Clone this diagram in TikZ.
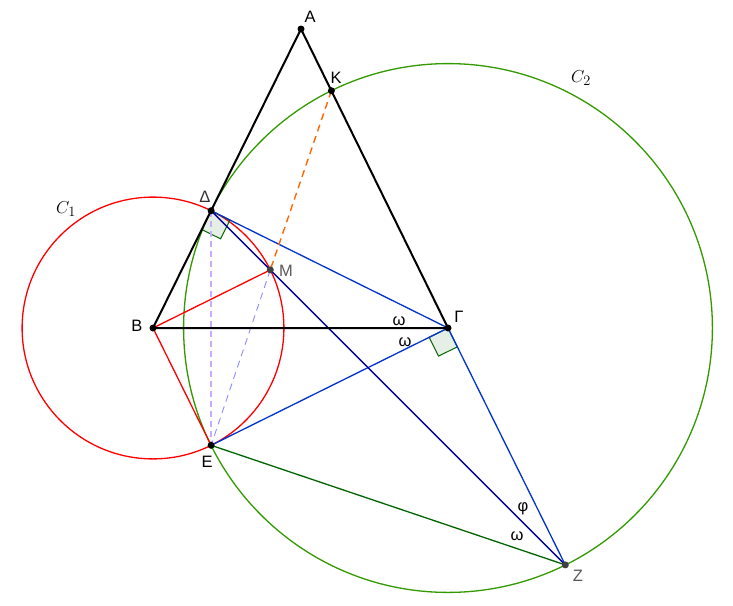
\documentclass[tikz,border=0pt]{standalone}
\usepackage{fontspec}
\setmainfont{Liberation Sans}
\begin{document}
\begin{tikzpicture}[x=1pt,y=-1pt,
  lbl/.style={font=\fontsize{16.5}{16.5}\selectfont, inner sep=0pt},
  dot/.style={circle, fill=black, inner sep=0pt, minimum size=7pt},
  gdot/.style={circle, fill=black!75, inner sep=0pt, minimum size=7pt},
  thin1/.style={line width=1.3pt},
  rsq/.style={draw=green!40!black, fill=green!40!black, fill opacity=0.1, line width=1pt}]
\useasboundingbox (0,0) rectangle (733,605);
\definecolor{cred}{RGB}{255,0,0}
\definecolor{cgreen}{RGB}{51,153,0}
\definecolor{cblue}{RGB}{0,51,204}
\definecolor{cdblue}{RGB}{0,0,153}
\definecolor{cdgreen}{RGB}{0,100,0}
\definecolor{corange}{RGB}{255,102,0}
\definecolor{cpurple}{RGB}{200,170,255}
\definecolor{clblue}{RGB}{140,140,255}
% points
\coordinate (A) at (301,29);
\coordinate (B) at (153,328);
\coordinate (G) at (448,328);
\coordinate (D) at (211.1,210.7);
\coordinate (E) at (211.1,445.3);
\coordinate (Z) at (565.3,564.9);
\coordinate (M) at (270.3,269.9);
\coordinate (K) at (331.4,90.7);
% circles
\draw[cred, thin1] (B) circle (130.9);
\draw[cgreen, thin1] (G) circle (264.4);
% right angle squares
\draw[rsq] (D) -- ++(-0.4436*21,0.8962*21) -- ++(0.8962*21,0.4436*21) -- ++(0.4436*21,-0.8962*21) -- cycle;
\draw[rsq] (G) -- ++(-0.896*21,0.4436*21) -- ++(0.4436*21,0.896*21) -- ++(0.896*21,-0.4436*21) -- cycle;
% lines
\draw[cred, thin1] (B) -- (M);
\draw[cred, thin1] (B) -- (E);
\draw[cblue, thin1] (D) -- (G);
\draw[cblue, thin1] (E) -- (G);
\draw[cblue, thin1] (G) -- (Z);
\draw[cdblue, thin1] (D) -- (Z);
\draw[cdgreen, thin1] (E) -- (Z);
\draw[corange, line width=1.4pt, dash pattern=on 7pt off 5pt] (K) -- (M);
\draw[clblue, line width=0.9pt, dash pattern=on 7pt off 5pt] (M) -- (E);
\draw[cpurple, line width=2pt, dash pattern=on 6pt off 4pt] (D) -- (E);
% triangle
\draw[black, line width=2pt] (A) -- (B) -- (G) -- cycle;
% dots
\node[dot] (nA) at (A) {};
\node[dot] (nB) at (B) {};
\node[dot] (nG) at (G) {};
\node[dot] (nD) at (D) {};
\node[dot] (nE) at (E) {};
\node[dot] (nK) at (K) {};
\node[gdot] (nM) at (M) {};
\node[gdot] (nZ) at (Z) {};
% labels
\node[lbl] (lA) at (310,17) {Α};
\node[lbl] (lK) at (336,78) {Κ};
\node[lbl, text=black!80] (lD) at (205,197) {Δ};
\node[lbl, text=black!65] (lM) at (286,271) {Μ};
\node[lbl] (lB) at (137,326) {Β};
\node[lbl] (lG) at (459,317) {Γ};
\node[lbl] (lE) at (207,462) {Ε};
\node[lbl, text=black!65] (lZ) at (578,576) {Ζ};
\node[lbl] (w1) at (399,321) {ω};
\node[lbl] (w2) at (405,342) {ω};
\node[lbl] (phi) at (523,509) {φ};
\node[lbl] (w3) at (517,536) {ω};
\node[inner sep=0pt, font=\fontsize{19}{19}\selectfont] (C1) at (66,209) {$C_1$};
\node[inner sep=0pt, font=\fontsize{19}{19}\selectfont] (C2) at (581,78) {$C_2$};
\end{tikzpicture}
\end{document}
